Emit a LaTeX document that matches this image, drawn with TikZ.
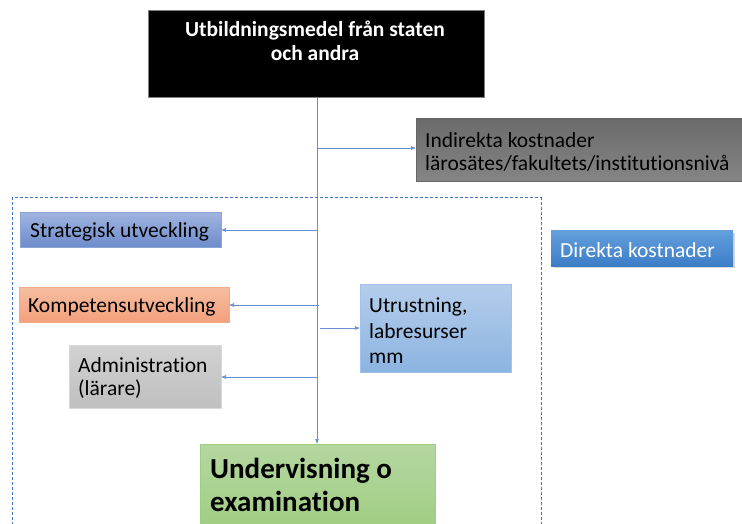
\documentclass[tikz,border=0pt]{standalone}
\usepackage{fontspec}
\setmainfont{Carlito}[Ligatures=NoCommon]
\usetikzlibrary{arrows.meta,shadows}
\definecolor{lineblue}{HTML}{4472C4}
\definecolor{strA}{RGB}{160,180,222}
\definecolor{strB}{RGB}{110,140,205}
\definecolor{strD}{RGB}{140,165,215}
\definecolor{komA}{RGB}{245,190,160}
\definecolor{komB}{RGB}{244,160,125}
\definecolor{komD}{RGB}{240,170,135}
\definecolor{utrA}{RGB}{180,205,235}
\definecolor{utrB}{RGB}{140,180,225}
\definecolor{utrD}{RGB}{160,195,235}
\definecolor{dirA}{RGB}{100,160,220}
\definecolor{dirB}{RGB}{60,125,200}
\definecolor{undA}{RGB}{180,215,160}
\definecolor{undB}{RGB}{160,205,130}
\begin{document}
\begin{tikzpicture}[x=1pt,y=-1pt,
  txt/.style={font=\fontsize{21.5}{23.5}\selectfont, align=left, anchor=west, inner sep=0pt},
  conn/.style={draw=lineblue!80, line width=0.6pt, -{Latex[length=5pt,width=4pt]}}]
\useasboundingbox (0,0) rectangle (742,524);
% dashed region
\draw[lineblue, line width=1pt, dash pattern=on 3pt off 2pt] (541,530) -- (541,198) -- (12,198) -- (12,530);
% top box
\fill[black] (148,10) rectangle (484,97);
\draw[gray] (148,10) rectangle (484,97);
\node[font=\bfseries\fontsize{21.5}{24}\selectfont, text=white, align=center] (top) at (315,41) {Utbildningsmedel från staten\\och andra};
\coordinate (topb) at (317,97);
% indirect
\shade[top color=black!58, bottom color=black!48] (416,119) rectangle (742,181);
\draw[black!60] (416,119) rectangle (742,181);
\coordinate (ind) at (416,148);
\node[txt] (indt) at (425,152) {Indirekta kostnader\\lärosätes/fakultets/institutionsnivå};
% strategisk
\shade[top color=strA, bottom color=strB] (20,212) rectangle (221,247);
\draw[strD] (20,212) rectangle (221,247);
\coordinate (str) at (221,230);
\node[txt] (strt) at (30,232) {Strategisk utveckling};
% kompetens
\shade[top color=komA, bottom color=komB] (19,287) rectangle (229,322);
\draw[komD] (19,287) rectangle (229,322);
\coordinate (kom) at (229,305);
\node[txt] (komt) at (28,307) {Kompetensutveckling};
% administration
\shade[top color=black!18, bottom color=black!25] (69,345) rectangle (221,408);
\draw[black!15] (69,345) rectangle (221,408);
\coordinate (adm) at (221,377);
\node[txt] (admt) at (78,378) {Administration\\(lärare)};
% utrustning
\shade[top color=utrA, bottom color=utrB] (360,284) rectangle (511,372);
\draw[utrD] (360,284) rectangle (511,372);
\coordinate (utr) at (360,328);
\node[txt, font=\fontsize{21.5}{25.5}\selectfont] (utrt) at (369,331) {Utrustning,\\labresurser\\mm};
% direkta
\fill[black!30, opacity=0.5] (553,233) rectangle (735,268);
\shade[top color=dirA, bottom color=dirB] (551,230) rectangle (733,266);
\node[txt, text=white] (dir) at (560,250) {Direkta kostnader};
% green
\shade[top color=undA, bottom color=undB] (200,444) rectangle (435,530);
\draw[undB] (200,444) rectangle (435,530);
\coordinate (und) at (317,444);
\node[txt, font=\bfseries\fontsize{29}{33}\selectfont] (undt) at (210,485) {Undervisning o\\examination};
% connectors
\coordinate (j1) at (317,148);
\coordinate (j2) at (317,230);
\coordinate (j3) at (319,305);
\coordinate (j4) at (320,328);
\coordinate (j5) at (317,377);
\draw[conn] (topb) -- (und);
\draw[conn] (j1) -- (ind);
\draw[conn] (j2) -- (str);
\draw[conn] (j3) -- (kom);
\draw[conn] (j4) -- (utr);
\draw[conn] (j5) -- (adm);
\end{tikzpicture}
\end{document}
